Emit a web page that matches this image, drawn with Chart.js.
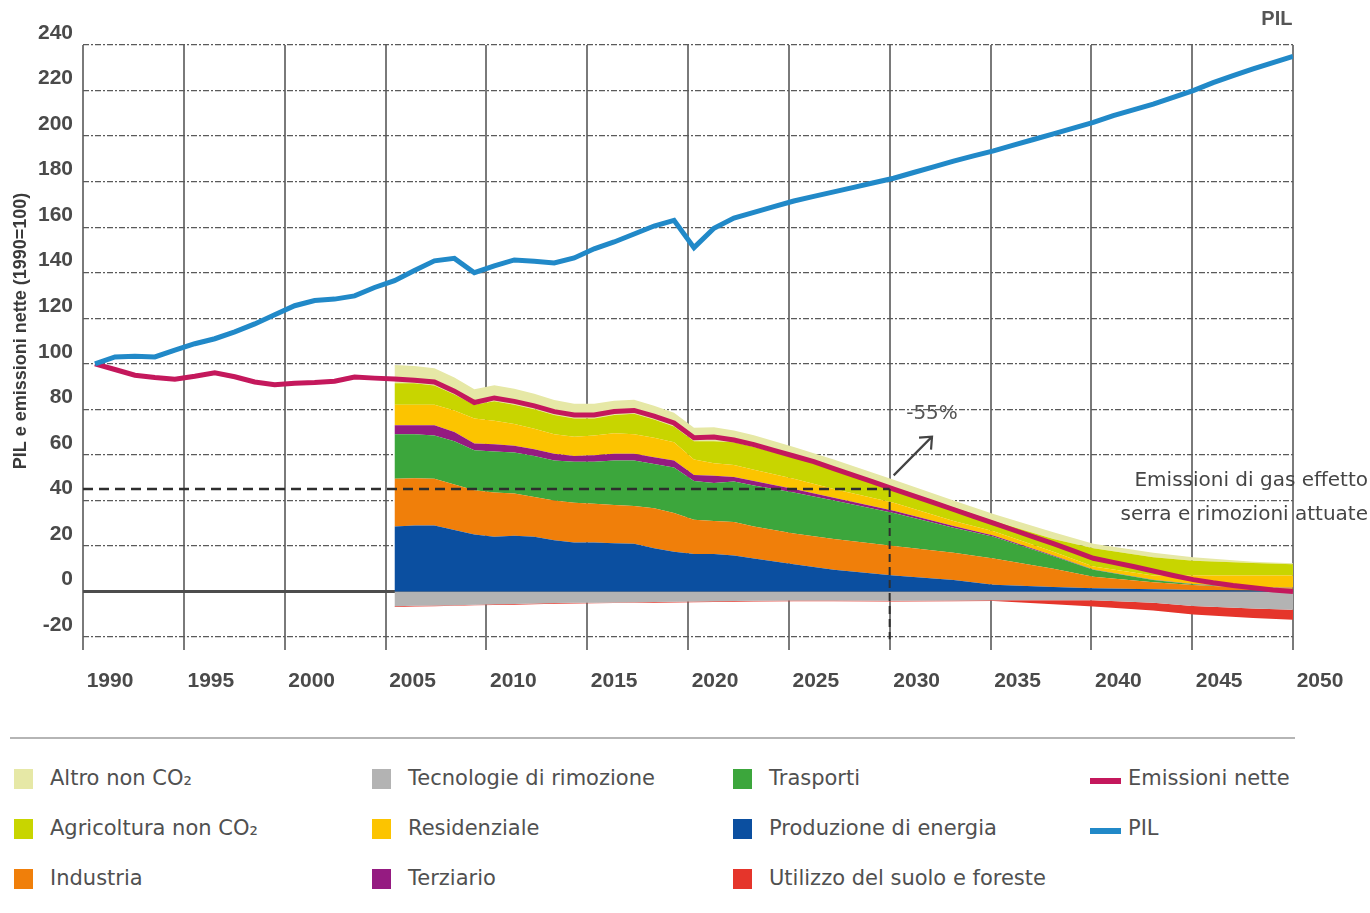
<!DOCTYPE html>
<html>
<head>
<meta charset="utf-8">
<script src="https://cdn.jsdelivr.net/npm/chart.js@4.4.1/dist/chart.umd.min.js"></script>
<style>
  html, body { margin: 0; padding: 0; background: #fff; }
  #wrap { position: relative; width: 1370px; height: 913px; overflow: hidden; font-family: "DejaVu Sans", sans-serif; }
  #chart { position: absolute; left: 0; top: 0; }
  #sep { position: absolute; left: 10px; top: 737px; width: 1285px; border-top: 2px solid #b5b5b5; }
  .item { position: absolute; font-size: 21px; color: #505050; line-height: 24px; white-space: nowrap; }
  .box { position: absolute; width: 19px; height: 20px; }
  .swatch { position: absolute; width: 31px; height: 6px; }
</style>
</head>
<body>
<div id="wrap">
  <canvas id="chart" width="1370" height="710"></canvas>
  <div id="sep"></div>
  <div id="legend"></div>
</div>
<script>
// ---- data ----
const lineYears = [1990,1991,1992,1993,1994,1995,1996,1997,1998,1999,
                   2000,2001,2002,2003,2004,2005,2006,2007,2008,2009,
                   2010,2011,2012,2013,2014,2015,2016,2017,2018,2019,
                   2020,2021,2022,2023,2024,2025,2026,2027,2028,2029,
                   2030,2031,2032,2033,2034,2035,2036,2037,2038,2039,
                   2040,2041,2042,2043,2044,2045,2046,2047,2048,2049,2050];

const pil = [100,103,103.3,103,106,108.8,111,114,117.5,121.5,
             125.5,127.8,128.4,129.8,133.5,136.5,141,145.2,146.3,140,
             143,145.6,145,144.3,146.5,150.5,153.5,157,160.5,163,
             151,159.5,164,166.5,169,171.5,173.5,175.5,177.5,179.5,
             181.5,184,186.5,189,191.3,193.5,196,198.5,201,203.5,
             206,209,211.5,214,217,220,223.5,226.5,229.5,232.3,235];

const emissioniNette = [100,97.5,95,94,93.2,94.5,96,94.3,92,90.8,
                        91.5,91.8,92.3,94.2,93.7,93.3,92.8,92,88,83,
                        85,83.5,81.5,79,77.5,77.5,79,79.5,77,74,
                        67.5,67.8,66.5,64.5,62,59.5,57,54,51,48,
                        45,42,39,36,33,30,27,24,21,17.8,
                        14.6,12.8,11,9,7,5.2,3.8,2.6,1.6,0.7,0];

const stackYears = [2005,2006,2007,2008,2009,2010,2011,2012,2013,2014,
                    2015,2016,2017,2018,2019,2020,2021,2022,2023,2025,
                    2027,2030,2033,2035,2038,2040,2043,2045,2048,2050];

const energia = [28.5,29,29,27,25,24,24.5,24,22.5,21.5,
                 21.5,21.2,21,19,17.5,16.5,16.5,15.8,14.5,12,
                 9.5,7,5,3,2,1.4,1,0.7,0.4,0.3];
const industria = [21,20.7,20.5,20,19.5,19.5,18.5,17.5,17.5,17.5,
                   17,16.8,16.5,17.5,17,15,14.5,14.7,14,13.5,
                   13.5,13,12,11.5,8,5.1,3,2.2,1.1,1];
const trasporti = [19.5,19.3,19,19,17.5,18,18,18,17.5,18,
                   18.5,19.5,20,19.5,20,17,16.6,17.8,18,18,
                   17,14.5,11,9.5,5.5,3,1,0.3,0.1,0.2];
const terziario = [4,4,4.5,4,3,3.2,3,3,3,2.5,
                   2.8,3,3,3,3,2.7,3.2,2,2,1.5,
                   1.2,1,0.8,0.6,0.3,0.2,0.1,0.1,0.1,0.1];
const residenziale = [9,9,9,9.5,11,10.3,9.5,9,8.5,8.5,
                      8.7,9,8.5,8.5,8,6.8,5.5,5.2,5,4.5,
                      3.8,3.5,2.2,1.9,1.7,1.3,1.9,3.7,5.3,5.4];
const agricoltura = [9.5,9.5,8.5,7,6,8.5,8.5,8.5,8.5,8,
                     7.5,8,9,8,7,8,9.7,10,10,9.5,
                     9,6.5,6,4.5,5.5,8,8,6.5,5.5,5];
const altroNonCO2 = [8,7.5,7.5,7.5,6.8,7.1,7,6.8,6.6,6.5,
                     6.4,6.3,6.2,6.1,6,5.9,6.1,5.2,5.1,4.5,
                     4,3.6,3,3,3,2,2,1.5,0.6,0.4];
const rimozione = [-6.5,-6.3,-6.2,-6,-5.8,-5.6,-5.5,-5.3,-5.1,-5,
                   -4.9,-4.8,-4.7,-4.6,-4.5,-4.4,-4.3,-4.2,-4.1,-4,
                   -4,-4.1,-4,-3.9,-3.8,-3.8,-5,-6.4,-7.5,-8];
const suolo = [-0.3,-0.3,-0.3,-0.3,-0.3,-0.3,-0.3,-0.3,-0.3,-0.3,
               -0.3,-0.3,-0.3,-0.3,-0.3,-0.3,-0.3,-0.3,-0.3,-0.3,
               -0.3,-0.3,-0.3,-0.3,-1.8,-2.8,-3.3,-3.7,-4.1,-4.4];

const yTicks = [-20,0,20,40,60,80,100,120,140,160,180,200,220,240];
const targetYear = 2030;
const targetLevel = 45; // -55% rispetto al 1990

// ---- helpers ----
function pts(xs, ys) {
    return xs.map((v, i) => ({ x: v, y: ys[i] }));
}

const tickFont = { family: "'Liberation Sans', Arial, sans-serif", size: 21, weight: 'bold' };
const tickColor = '#4a4a4a';

function area(label, values, color, fill) {
    return {
        label: label,
        data: pts(stackYears, values),
        xAxisID: 'xd',
        backgroundColor: color,
        borderColor: color,
        borderWidth: 0,
        fill: fill,
        order: 1,
        legendKind: 'box'
    };
}

const datasets = [
    { label: 'PIL', data: pts(lineYears, pil), xAxisID: 'xd', stack: 'pil',
      borderColor: '#2189c8', borderWidth: 5, fill: false, order: 0, legendKind: 'line' },
    { label: 'Emissioni nette', data: pts(lineYears, emissioniNette), xAxisID: 'xd', stack: 'net',
      borderColor: '#c4185c', borderWidth: 5, fill: false, order: 0, legendKind: 'line' },
    area('Produzione di energia', energia, '#0b4fa0', 'origin'),
    area('Industria', industria, '#f07f0a', '-1'),
    area('Trasporti', trasporti, '#3ca63c', '-1'),
    area('Terziario', terziario, '#951b81', '-1'),
    area('Residenziale', residenziale, '#fcc400', '-1'),
    area('Agricoltura non CO\u2082', agricoltura, '#c8d500', '-1'),
    area('Altro non CO\u2082', altroNonCO2, '#e6e8a6', '-1'),
    area('Tecnologie di rimozione', rimozione, '#b3b3b3', 'origin'),
    area('Utilizzo del suolo e foreste', suolo, '#e5352b', '-1')
];

// annotations: zero axis, -55% target, texts
const annotations = {
    id: 'annotations',
    beforeDatasetsDraw(chart) {
        const { ctx, scales: { x, y } } = chart;
        ctx.save();
        ctx.strokeStyle = '#4d4d4d';
        ctx.lineWidth = 3;
        ctx.beginPath();
        ctx.moveTo(x.getPixelForValue(1990), y.getPixelForValue(0));
        ctx.lineTo(x.getPixelForValue(2050), y.getPixelForValue(0));
        ctx.stroke();
        ctx.restore();
    },
    afterDatasetsDraw(chart) {
        const { ctx, scales: { x, y } } = chart;
        const xT = x.getPixelForValue(targetYear);
        const yT = y.getPixelForValue(targetLevel);
        ctx.save();
        ctx.strokeStyle = '#2e2e2e';
        ctx.lineWidth = 2.5;
        ctx.setLineDash([10, 6]);
        ctx.beginPath();
        ctx.moveTo(x.left, yT);
        ctx.lineTo(xT, yT);
        ctx.stroke();
        ctx.lineWidth = 2;
        ctx.setLineDash([8, 5]);
        ctx.beginPath();
        ctx.moveTo(xT, yT);
        ctx.lineTo(xT, y.getPixelForValue(-21));
        ctx.stroke();

        // arrow
        ctx.setLineDash([]);
        ctx.strokeStyle = '#444';
        ctx.lineWidth = 2.2;
        const ax0 = x.getPixelForValue(2030.2), ay0 = y.getPixelForValue(51);
        const ax1 = x.getPixelForValue(2032.1), ay1 = y.getPixelForValue(68);
        ctx.beginPath();
        ctx.moveTo(ax0, ay0);
        ctx.lineTo(ax1, ay1);
        ctx.moveTo(ax1 - 13, ay1 + 1);
        ctx.lineTo(ax1, ay1);
        ctx.lineTo(ax1 - 1, ay1 + 13);
        ctx.stroke();

        ctx.fillStyle = '#555';
        ctx.font = "20px 'DejaVu Sans', sans-serif";
        ctx.textAlign = 'center';
        ctx.textBaseline = 'middle';
        ctx.fillText('-55%', x.getPixelForValue(2032.1), y.getPixelForValue(78));

        ctx.fillStyle = '#454545';
        ctx.textAlign = 'right';
        ctx.fillText('Emissioni di gas effetto', chart.width - 2, y.getPixelForValue(48.5));
        ctx.fillText('serra e rimozioni attuate', chart.width - 2, y.getPixelForValue(33.6));

        ctx.font = "bold 20px 'Liberation Sans', Arial, sans-serif";
        ctx.fillStyle = '#555';
        ctx.textAlign = 'center';
        ctx.fillText('PIL', x.getPixelForValue(2049.2), y.getPixelForValue(251));

        // y axis title
        ctx.translate(21, 331);
        ctx.rotate(-Math.PI / 2);
        ctx.font = "bold 18px 'Liberation Sans', Arial, sans-serif";
        ctx.fillStyle = '#3a3a3a';
        ctx.fillText('PIL e emissioni nette (1990=100)', 0, 0);
        ctx.restore();
    }
};

const ctx = document.getElementById('chart').getContext('2d');
new Chart(ctx, {
    type: 'line',
    data: { datasets: datasets },
    options: {
        responsive: false,
        animation: false,
        layout: { padding: { left: 0, right: 77, top: 45, bottom: 0 } },
        elements: { point: { radius: 0 }, line: { tension: 0 } },
        plugins: { legend: { display: false }, tooltip: { enabled: false } },
        scales: {
            x: {
                type: 'linear',
                min: 1990,
                max: 2050,
                ticks: {
                    stepSize: 5,
                    labelOffset: 27,
                    padding: 19,
                    font: tickFont,
                    color: tickColor,
                    callback: (v) => String(v)
                },
                grid: { color: '#7a7a7a', lineWidth: 2, drawTicks: false },
                border: { display: false },
                afterFit(s) { s.height = 60; }
            },
            xd: { type: 'linear', min: 1989.4, max: 2050, display: false },
            y: {
                stacked: true,
                min: -25.7,
                max: 240,
                afterBuildTicks(s) { s.ticks = yTicks.map(v => ({ value: v })); },
                ticks: { labelOffset: -12, padding: 10, font: tickFont, color: tickColor },
                grid: { color: '#5a5a5a', lineWidth: 1.2, drawTicks: false },
                border: { display: false, dash: [6, 2, 2, 2] },
                afterFit(s) { s.width = 83; }
            }
        }
    },
    plugins: [annotations]
});

// ---- legend (column by column, as in the reference) ----
const legendOrder = [
    'Altro non CO\u2082', 'Agricoltura non CO\u2082', 'Industria',
    'Tecnologie di rimozione', 'Residenziale', 'Terziario',
    'Trasporti', 'Produzione di energia', 'Utilizzo del suolo e foreste',
    'Emissioni nette', 'PIL'
];
const colX = [14, 372, 733, 1090];
const rowY = [779, 829, 879];
const legend = document.getElementById('legend');
legendOrder.forEach((name, i) => {
    const ds = datasets.find(d => d.label === name);
    const cx = colX[Math.floor(i / 3)];
    const cy = rowY[i % 3];
    const mark = document.createElement('div');
    const text = document.createElement('div');
    text.className = 'item';
    text.textContent = name;
    text.style.top = (cy - 13) + 'px';
    if (ds.legendKind === 'line') {
        mark.className = 'swatch';
        mark.style.background = ds.borderColor;
        mark.style.left = cx + 'px';
        mark.style.top = (cy - 1) + 'px';
        text.style.left = (cx + 38) + 'px';
    } else {
        mark.className = 'box';
        mark.style.background = ds.backgroundColor;
        mark.style.left = cx + 'px';
        mark.style.top = (cy - 10) + 'px';
        text.style.left = (cx + 36) + 'px';
    }
    legend.appendChild(mark);
    legend.appendChild(text);
});
</script>
</body>
</html>
